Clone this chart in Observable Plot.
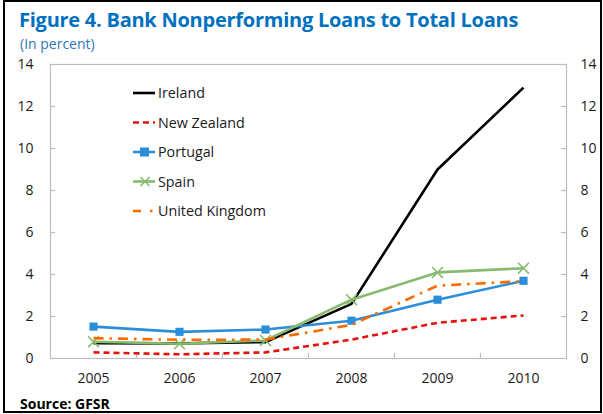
<!DOCTYPE html>
<html>
<head>
<meta charset="utf-8">
<script src="https://cdn.jsdelivr.net/npm/d3@7"></script>
<script src="https://cdn.jsdelivr.net/npm/@observablehq/plot@0.6"></script>
<style>
  html, body { margin: 0; padding: 0; background: #fff; }
  #wrap { position: relative; width: 603px; height: 414px; overflow: hidden; font-family: "Open Sans", sans-serif; }
  #border { position: absolute; left: 3px; top: 0px; width: 599px; height: 413px; box-sizing: border-box; border: 2px solid #000; pointer-events: none; }
  #title { position: absolute; left: 19px; top: 6px; font-size: 20px; font-weight: bold; color: #0070C0; letter-spacing: -0.25px; white-space: nowrap; }
  #subtitle { position: absolute; left: 20px; top: 34px; font-size: 14px; color: #2E75B6; white-space: nowrap; }
  #source { position: absolute; left: 20px; top: 394px; font-size: 14px; font-weight: bold; color: #000; white-space: nowrap; }
  #legend { position: absolute; left: 131px; top: 82px; }
  #plot { position: absolute; left: 0; top: 0; }
</style>
</head>
<body>
<div id="wrap">
  <div id="plot"></div>
  <div id="title">Figure 4. Bank Nonperforming Loans to Total Loans</div>
  <div id="subtitle">(In percent)</div>
  <div id="source">Source: GFSR</div>
  <svg id="legend" width="200" height="145"></svg>
  <div id="border"></div>
</div>
<script>
const years = [2005, 2006, 2007, 2008, 2009, 2010];
const seriesNames = ["Ireland", "New Zealand", "Portugal", "Spain", "United Kingdom"];
const ireland = [0.73, 0.72, 0.78, 2.6, 9.0, 12.9];
const newZealand = [0.29, 0.2, 0.29, 0.9, 1.7, 2.05];
const portugal = [1.52, 1.27, 1.38, 1.8, 2.8, 3.7];
const spain = [0.8, 0.7, 0.86, 2.8, 4.1, 4.3];
const unitedKingdom = [0.97, 0.89, 0.9, 1.6, 3.47, 3.68];
const yTicks = [0, 2, 4, 6, 8, 10, 12, 14];

const styles = {
  "Ireland": {stroke: "#000000", dash: null},
  "New Zealand": {stroke: "#E3120B", dash: "6,4"},
  "Portugal": {stroke: "#2B8ED9", dash: null},
  "Spain": {stroke: "#86BB6D", dash: null},
  "United Kingdom": {stroke: "#FF6A00", dash: "10,6,2.5,6"}
};
const valuesBySeries = {
  "Ireland": ireland, "New Zealand": newZealand, "Portugal": portugal,
  "Spain": spain, "United Kingdom": unitedKingdom
};
const rows = seriesNames.map(name => years.map((year, i) => ({name, year, value: valuesBySeries[name][i]})));
const boundaries = years.slice(0, -1).map(y => y + 0.5);

const lines = seriesNames.map((name, k) => Plot.line(rows[k], {
  x: "year", y: "value", stroke: styles[name].stroke, strokeWidth: 2.6,
  strokeDasharray: styles[name].dash, strokeLinecap: "butt", strokeLinejoin: "round"
}));

const chart = Plot.plot({
  width: 603, height: 414,
  marginLeft: 50, marginRight: 37, marginTop: 64, marginBottom: 56,
  style: {fontFamily: "Open Sans, sans-serif", fontSize: "14px", color: "#1a1a1a", background: "transparent"},
  x: {domain: [years[0] - 0.5, years[years.length - 1] + 0.5]},
  y: {domain: [0, 14]},
  marks: [
    Plot.frame({stroke: "#BDBDBD", strokeWidth: 1.2}),
    Plot.axisY({anchor: "left", ticks: yTicks, tickSize: 0, tickPadding: 17, label: null, fontSize: 14}),
    Plot.axisY({anchor: "right", ticks: yTicks, tickSize: 0, tickPadding: 14, label: null, fontSize: 14}),
    Plot.axisX({ticks: years, tickSize: 0, tickPadding: 15, tickFormat: d => String(d), label: null, fontSize: 14}),
    Plot.ruleY(yTicks.slice(1, -1), {x1: years[0] - 0.5, x2: years[0] - 0.5 + 0.06, stroke: "#BDBDBD", strokeWidth: 1.2}),
    Plot.ruleY(yTicks.slice(1, -1), {x1: years[years.length - 1] + 0.5 - 0.06, x2: years[years.length - 1] + 0.5, stroke: "#BDBDBD", strokeWidth: 1.2}),
    Plot.ruleX(boundaries, {y1: 0, y2: 0.25, stroke: "#BDBDBD", strokeWidth: 1.2}),
    lines[0], lines[1], lines[2],
    Plot.dot(rows[2], {x: "year", y: "value", symbol: "square", r: 4.6, fill: styles["Portugal"].stroke, stroke: "none"}),
    lines[3],
    Plot.dot(rows[3], {x: "year", y: "value", symbol: "times", r: 5, stroke: styles["Spain"].stroke, strokeWidth: 1.6, fill: "none"}),
    lines[4]
  ]
});
document.getElementById("plot").appendChild(chart);

// Legend
const leg = d3.select("#legend");
seriesNames.forEach((name, i) => {
  const cy = 11 + i * 29.5;
  const g = leg.append("g").attr("transform", `translate(0,${cy})`);
  const st = styles[name];
  g.append("line").attr("x1", 2).attr("x2", 24).attr("y1", 0).attr("y2", 0)
    .attr("stroke", st.stroke).attr("stroke-width", 2.6)
    .attr("stroke-dasharray", name === "United Kingdom" ? "8,9,2.5,6" : (st.dash || null));
  if (name === "Portugal") {
    g.append("rect").attr("x", 9).attr("y", -4.5).attr("width", 9).attr("height", 9).attr("fill", st.stroke);
  }
  if (name === "Spain") {
    g.append("path").attr("d", "M9.5,-4.5L18.5,4.5M9.5,4.5L18.5,-4.5").attr("stroke", st.stroke).attr("stroke-width", 1.6).attr("fill", "none");
  }
  g.append("text").attr("x", 27).attr("y", 0).attr("dy", "0.35em")
    .attr("font-family", "Open Sans, sans-serif").attr("font-size", 14.3).attr("fill", "#1a1a1a").text(name);
});
</script>
</body>
</html>
